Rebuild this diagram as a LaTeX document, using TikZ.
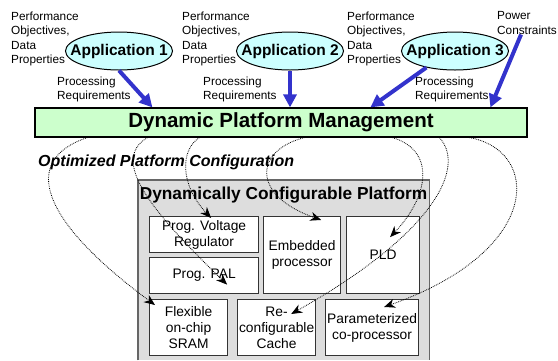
\documentclass[tikz,border=0pt]{standalone}
\usepackage{fontspec}
\setmainfont{Liberation Sans}
\usetikzlibrary{shapes.geometric,arrows.meta,calc}
\definecolor{appfill}{HTML}{CCFFFF}
\definecolor{dpmfill}{HTML}{CCFFCC}
\definecolor{arrblue}{HTML}{3333CC}
\definecolor{platfill}{HTML}{DDDDDD}
\definecolor{platline}{HTML}{666666}
\begin{document}
\begin{tikzpicture}[x=1pt,y=-1pt,
  lbl/.style={inner sep=0pt, align=left, font=\fontsize{11.8}{14.5}\selectfont, anchor=west},
  app/.style={ellipse, draw=black, line width=1pt, fill=appfill, minimum width=107pt, minimum height=38pt, inner xsep=-22pt, inner ysep=-3pt, font=\fontsize{15.5}{18}\selectfont\bfseries},
  req/.style={draw=arrblue, line width=4pt, -{Triangle[length=13pt,width=13pt]}},
  unit/.style={draw=black!80, line width=1.2pt, fill=white, align=center, inner sep=0pt, anchor=north west, font=\fontsize{13.8}{16}\selectfont},
  cfg/.style={densely dotted, line width=0.8pt, -{Stealth[length=11pt,width=9pt]}}
]
\useasboundingbox (0,0) rectangle (558,360);

% applications and labels
\node[app] (app1) at (119,51) {Application 1};
\node[app] (app2) at (290,51) {Application 2};
\node[app] (app3) at (455,51) {Application 3};
\node[lbl] (perf1) at (11,39) {Performance\\Objectives,\\Data\\Properties};
\node[lbl] (perf2) at (182,39) {Performance\\Objectives,\\Data\\Properties};
\node[lbl] (perf3) at (347,39) {Performance\\Objectives,\\Data\\Properties};
\node[lbl] (pc) at (497,23) {Power\\Constraints};
\node[lbl] (proc1) at (57,89.5) {Processing\\Requirements};
\node[lbl] (proc2) at (203,89.5) {Processing\\Requirements};
\node[lbl] (proc3) at (415,89.5) {Processing\\Requirements};

% management bar
\node[draw=black, line width=1.2pt, fill=dpmfill, minimum width=492pt, minimum height=29pt, inner sep=0pt,
      font=\fontsize{20.5}{24}\selectfont\bfseries] (dpm) at (281,122.5) {Dynamic Platform Management};

% requirement arrows
\draw[req] (app1.south) -- ($(dpm.north west)+(118,0)$);
\draw[req] (app2.south) -- (app2.south |- dpm.north);
\draw[req] (app3.210) -- ($(dpm.north west)+(336,0)$);
\draw[req] ($(pc.south)+(-6,0)$) -- ($(dpm.north west)+(456,0)$);

\node[anchor=west, inner sep=0pt, font=\fontsize{16}{19}\selectfont\bfseries\itshape] (opt) at (38,162) {Optimized Platform Configuration};

% platform
\node[fill=platfill, minimum width=291pt, minimum height=180pt, inner sep=0pt, anchor=north west] (plat) at (138,180) {};
\draw[platline, line width=1.5pt] (plat.south west) -- (plat.north west) -- (plat.north east) -- (plat.south east);
\node[inner sep=0pt, font=\fontsize{17.3}{20}\selectfont\bfseries] (plattitle) at (283.5,195) {Dynamically Configurable Platform};

\node[unit, minimum width=109pt, minimum height=36pt] (pvr) at (149,216) {Prog. Voltage\\Regulator};
\node[unit, minimum width=109pt, minimum height=36pt] (pal) at (149,257) {Prog. PAL};
\node[unit, minimum width=77pt, minimum height=77pt] (emb) at (263,216) {Embedded\\processor};
\node[unit, minimum width=73pt, minimum height=77pt] (pld) at (346,216) {PLD};
\node[unit, minimum width=78pt, minimum height=56pt] (sram) at (149,299) {Flexible\\on-chip\\SRAM};
\node[unit, minimum width=78pt, minimum height=56pt] (cache) at (237,299) {Re-\\configurable\\Cache};
\node[unit, minimum width=93pt, minimum height=56pt] (cop) at (325,299) {Parameterized\\co-processor};

% configuration connectors
\draw[cfg] ($(dpm.south west)+(53,0)$) .. controls (20,160) and (40,220) .. ([xshift=6pt,yshift=-6pt]sram.north west);
\draw[cfg] ($(dpm.south west)+(113,0)$) .. controls (110,160) and (150,210) .. ([xshift=23pt,yshift=-9pt]pal.center);
\draw[cfg] ($(dpm.south west)+(165,0)$) .. controls (180,150) and (180,185) .. ([xshift=7pt,yshift=-2pt]pvr.north);
\draw[cfg] ($(dpm.south west)+(270,0)$) .. controls (255,150) and (250,195) .. ([xshift=-20pt,yshift=-4pt]emb.north east);
\draw[cfg] ($(dpm.south west)+(358,0)$) .. controls (435,150) and (430,195) .. ([xshift=7pt,yshift=18pt]pld.center);
\draw[cfg] ($(dpm.south west)+(405,0)$) .. controls (465,165) and (440,230) .. ([xshift=-25pt,yshift=-15pt]cache.north east);
\draw[cfg] ($(dpm.south west)+(435,0)$) .. controls (540,150) and (545,250) .. ([xshift=12pt,yshift=-8pt]cop.north);
\end{tikzpicture}
\end{document}
